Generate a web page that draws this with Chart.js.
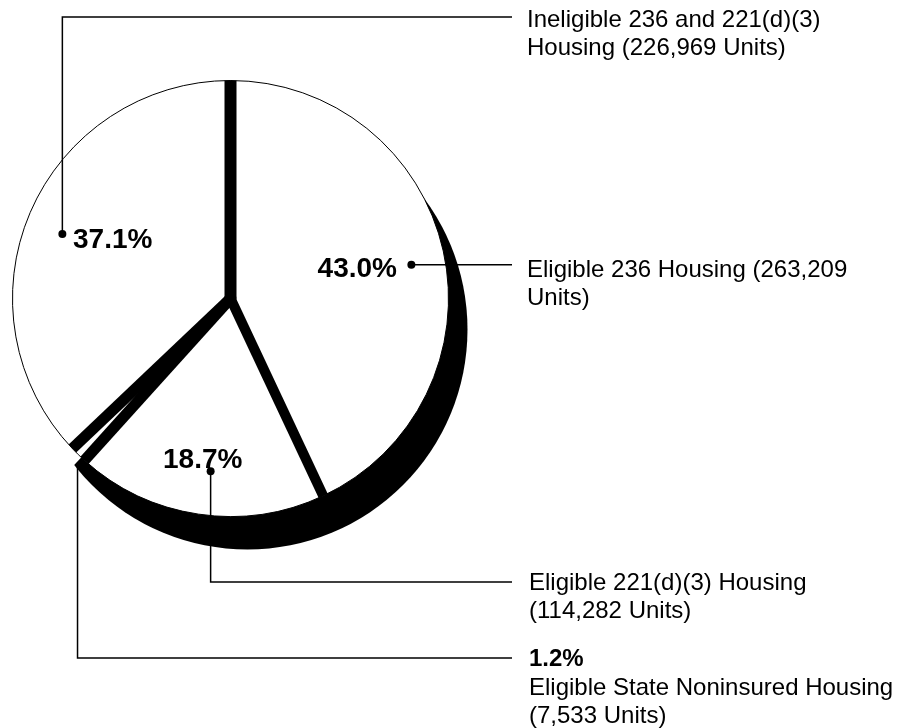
<!DOCTYPE html>
<html>
<head>
<meta charset="utf-8">
<title>Housing units by eligibility</title>
<script src="https://cdn.jsdelivr.net/npm/chart.js@4"></script>
<style>
    body { margin: 0; background: #fff; }
    #wrap {
        position: relative;
        width: 901px;
        height: 728px;
        overflow: hidden;
        font-family: "Liberation Sans", Arial, Helvetica, sans-serif;
        color: #000;
    }
    #pie { position: absolute; left: 0; top: 0; }
    .lbl { position: absolute; font-size: 24px; line-height: 28px; white-space: nowrap; }
    .pct { position: absolute; font-weight: bold; font-size: 28px; line-height: 28px; white-space: nowrap; }
</style>
</head>
<body>
<div id="wrap">
    <canvas id="pie" width="901" height="728"></canvas>
    <div id="labels"></div>
</div>
<script>
// slices run clockwise from 12 o'clock
const CATEGORIES = [
    "Eligible 236 Housing",
    "Eligible 221(d)(3) Housing",
    "Eligible State Noninsured Housing",
    "Ineligible 236 and 221(d)(3) Housing",
];
const UNITS = [263209, 114282, 7533, 226969];
const PERCENTS = ["43.0%", "18.7%", "1.2%", "37.1%"];

const fmt = (n) => n.toLocaleString("en-US");

const LABEL_LINES = [
    ["Eligible 236 Housing (" + fmt(UNITS[0]), "Units)"],
    ["Eligible 221(d)(3) Housing", "(" + fmt(UNITS[1]) + " Units)"],
    ["Eligible State Noninsured Housing", "(" + fmt(UNITS[2]) + " Units)"],
    ["Ineligible 236 and 221(d)(3)", "Housing (" + fmt(UNITS[3]) + " Units)"],
];

// drawing style
const SEP_WIDTHS = [12, 10, 11, 11];   // black divider at the start of each slice
const SHADOW_DX = 17;
const SHADOW_DY = 31;
const SHADOW_GROW = 2;
const LINE_END_X = 512;
// where each callout leaves its slice: t = fraction across the slice, r = fraction of radius
const CALLOUTS = [
    { t: 0.513, r: 0.844, turnY: null, dot: true },
    { t: 0.472, r: 0.798, turnY: 582, dot: true },
    { t: 0.2, r: 1.03, turnY: 658, dot: false },
    { t: 0.483, r: 0.826, turnY: 17, dot: true },
];

const pieDecor = {
    id: "pieDecor",
    beforeDatasetsDraw(chart) {
        const arcs = chart.getDatasetMeta(0).data;
        const a = arcs[0];
        const ctx = chart.ctx;
        ctx.save();
        // keep the drop shadow from running past the small slice on the lower left
        ctx.beginPath();
        ctx.moveTo(a.x, a.y);
        ctx.arc(a.x, a.y, a.outerRadius * 2, a.startAngle - 0.6, arcs[2].startAngle + 0.02);
        ctx.closePath();
        ctx.clip();
        ctx.fillStyle = "#000";
        ctx.beginPath();
        ctx.arc(a.x + SHADOW_DX, a.y + SHADOW_DY, a.outerRadius + SHADOW_GROW, 0, Math.PI * 2);
        ctx.fill();
        ctx.restore();
    },
    afterDatasetsDraw(chart) {
        const arcs = chart.getDatasetMeta(0).data;
        const ctx = chart.ctx;
        ctx.save();
        ctx.strokeStyle = "#000";
        ctx.fillStyle = "#000";

        arcs.forEach((a, i) => {
            ctx.lineWidth = SEP_WIDTHS[i];
            ctx.beginPath();
            ctx.moveTo(a.x, a.y);
            ctx.lineTo(a.x + Math.cos(a.startAngle) * a.outerRadius, a.y + Math.sin(a.startAngle) * a.outerRadius);
            ctx.stroke();
        });
        ctx.beginPath();
        ctx.arc(arcs[0].x, arcs[0].y, 6, 0, Math.PI * 2);
        ctx.fill();

        ctx.lineWidth = 1.5;
        arcs.forEach((a, i) => {
            const c = CALLOUTS[i];
            const ang = a.startAngle + (a.endAngle - a.startAngle) * c.t;
            const px = a.x + Math.cos(ang) * a.outerRadius * c.r;
            const py = a.y + Math.sin(ang) * a.outerRadius * c.r;
            ctx.beginPath();
            ctx.moveTo(px, py);
            if (c.turnY != null) {
                ctx.lineTo(px, c.turnY);
                ctx.lineTo(LINE_END_X, c.turnY);
            } else {
                ctx.lineTo(LINE_END_X, py);
            }
            ctx.stroke();
            if (c.dot) {
                ctx.beginPath();
                ctx.arc(px, py, 4, 0, Math.PI * 2);
                ctx.fill();
            }
        });
        ctx.restore();
    },
};

new Chart(document.getElementById("pie"), {
    type: "pie",
    data: {
        labels: CATEGORIES,
        datasets: [{
            data: UNITS,
            backgroundColor: "#fff",
            borderColor: "#000",
            borderWidth: 1,
        }],
    },
    options: {
        responsive: false,
        animation: false,
        events: [],
        layout: { padding: { left: 12, top: 80, right: 452, bottom: 211 } },
        plugins: { legend: { display: false }, tooltip: { enabled: false } },
    },
    plugins: [pieDecor],
});

// text labels, positioned to sit on the callout lines
const labelBox = document.getElementById("labels");
function addText(cls, html, style) {
    const d = document.createElement("div");
    d.className = cls;
    d.innerHTML = html;
    Object.assign(d.style, style);
    labelBox.appendChild(d);
}

addText("pct", PERCENTS[3], { left: "73px", top: "225px" });
addText("pct", PERCENTS[0], { right: "504px", top: "254px" });
addText("pct", PERCENTS[1], { left: "163px", top: "445px" });
addText("pct", PERCENTS[2], { left: "529px", top: "646px", fontSize: "24px", lineHeight: "24px" });

addText("lbl", LABEL_LINES[3].join("<br>"), { left: "527px", top: "5px" });
addText("lbl", LABEL_LINES[0].join("<br>"), { left: "527px", top: "255px" });
addText("lbl", LABEL_LINES[1].join("<br>"), { left: "529px", top: "568px" });
addText("lbl", LABEL_LINES[2].join("<br>"), { left: "529px", top: "673px" });
</script>
</body>
</html>
